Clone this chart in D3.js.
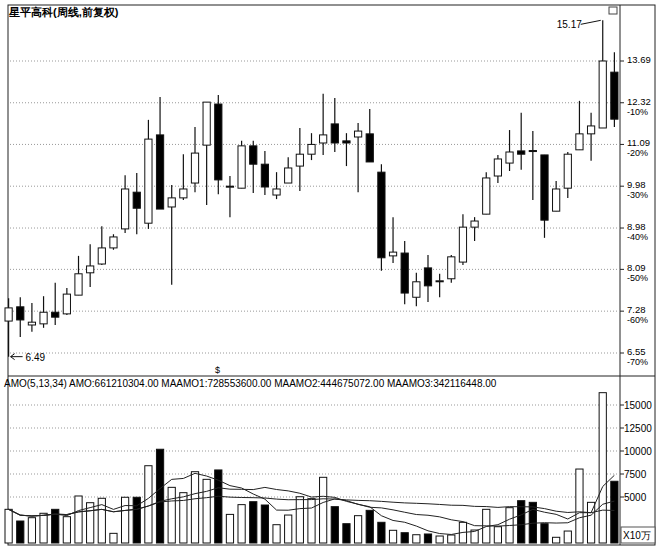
<!DOCTYPE html>
<html><head><meta charset="utf-8">
<script src="https://cdn.jsdelivr.net/npm/d3@7"></script>
<style>body{margin:0;background:#fff}text{font-family:"Liberation Sans",Arial,sans-serif}</style>
</head><body><div id="chart"></div>
<script>
var opens  = [7.10,7.36,7.03,7.05,7.26,7.23,7.58,8.02,8.20,8.54,8.96,9.83,9.09,11.36,9.47,9.69,10.06,11.07,12.28,9.97,9.93,11.05,10.55,9.76,10.06,10.50,10.82,11.13,11.68,11.19,11.30,11.39,10.34,8.37,8.43,7.54,8.12,7.85,7.90,8.24,9.00,9.30,10.24,10.58,10.91,10.92,10.80,9.37,9.93,10.94,11.39,11.56,13.31];
var highs  = [7.52,7.54,7.43,7.56,7.82,7.72,8.37,8.62,9.02,8.84,10.26,10.32,11.80,12.50,10.01,10.82,11.59,12.34,12.56,10.24,11.19,11.19,10.91,10.34,10.74,11.56,11.41,12.60,12.47,11.41,11.71,12.13,10.55,9.23,8.69,8.02,8.39,8.00,8.39,9.30,9.23,10.34,10.80,11.50,12.01,11.47,10.80,10.11,10.88,12.38,12.01,15.17,14.00];
var lows   = [6.49,6.82,6.91,6.98,7.03,7.21,7.58,7.74,8.18,8.50,8.87,8.84,8.96,9.42,7.78,9.64,9.83,9.52,9.78,9.23,9.93,9.81,9.76,9.66,10.06,9.86,10.66,10.80,10.88,10.50,9.83,10.61,8.06,8.22,7.41,7.37,7.45,7.54,7.82,8.18,8.69,9.30,10.06,10.37,10.40,9.64,8.76,9.37,9.69,10.94,10.64,11.56,11.59];
var closes = [7.34,7.12,7.08,7.26,7.17,7.60,8.00,8.16,8.54,8.78,9.91,9.44,11.24,9.42,9.69,9.91,10.85,12.34,10.14,9.98,11.05,10.55,9.96,9.91,10.45,10.82,11.09,11.36,11.13,11.13,11.47,10.61,8.33,8.45,7.62,7.84,7.76,7.86,8.35,9.00,9.14,10.19,10.69,10.88,10.82,10.91,9.16,9.91,10.82,11.39,11.62,13.69,11.82];
var amounts = [3660,2390,2750,3230,3660,2860,5110,4380,4860,1050,4970,4970,8400,10190,6050,5470,7750,6920,7940,3110,4170,4490,4130,1990,3040,5030,4820,7140,3950,2100,2970,3550,2250,1380,1120,900,980,760,870,2250,1410,3660,1770,3840,4600,4420,2100,620,1300,8040,4420,16340,6710];
var priceTicks = [13.69,12.32,11.09,9.98,8.98,8.09,7.28,6.55];
var pctTicks = ["","-10%","-20%","-30%","-40%","-50%","-60%","-70%"];
var volTicks = [5000,7500,10000,12500,15000];
var maPeriods = [5,13,34];

var W = 660, H = 548;
var svg = d3.select("#chart").append("svg").attr("width", W).attr("height", H);
var left = 8, right = 620, pTop = 5, pBot = 376, vTop = 376, vBot = 545;

var idx = d3.range(closes.length);
var x = d3.scaleBand().domain(idx).range([5, 618]).paddingInner(0.38);
var y = d3.scaleLog().domain([6.55, 13.69]).range([353, 61]);
var yv = d3.scaleLinear().domain([0, 15000]).range([543, 405]);

// frames
svg.append("rect").attr("x", left).attr("y", pTop).attr("width", 647).attr("height", vBot - pTop)
   .attr("fill", "none").attr("stroke", "#222");
svg.append("line").attr("x1", right).attr("x2", right).attr("y1", pTop).attr("y2", vBot).attr("stroke", "#222");
svg.append("line").attr("x1", left).attr("x2", 655).attr("y1", pBot).attr("y2", pBot).attr("stroke", "#222");

// price grid + labels
priceTicks.forEach(function (t, i) {
  svg.append("line").attr("x1", left + 2).attr("x2", right).attr("y1", y(t)).attr("y2", y(t))
     .attr("stroke", "#999").attr("stroke-dasharray", "1,2");
  svg.append("line").attr("x1", right).attr("x2", right + 4).attr("y1", y(t)).attr("y2", y(t)).attr("stroke", "#222");
  svg.append("text").attr("x", 627).attr("y", y(t) + 2).attr("font-size", 9.5).text(t.toFixed(2));
  if (pctTicks[i]) svg.append("text").attr("x", 627).attr("y", y(t) + 12).attr("font-size", 9).text(pctTicks[i]);
});

svg.append("text").attr("x", 9).attr("y", 16).attr("font-size", 11).attr("font-weight", "bold")
   .text("星平高科(周线,前复权)");

// candles
var c = svg.append("g");
idx.forEach(function (i) {
  var cx = x(i) + x.bandwidth() / 2, up = closes[i] >= opens[i];
  c.append("line").attr("x1", cx).attr("x2", cx).attr("y1", y(highs[i])).attr("y2", y(lows[i]))
   .attr("stroke", "#111").attr("stroke-width", 1.2);
  var top = y(Math.max(opens[i], closes[i])), bot = y(Math.min(opens[i], closes[i]));
  c.append("rect").attr("x", x(i)).attr("y", top).attr("width", x.bandwidth()).attr("height", Math.max(1, bot - top))
   .attr("fill", up ? "#fff" : "#000").attr("stroke", "#111").attr("stroke-width", 1);
});

// high / low marks
var hi = d3.maxIndex(highs), lo = d3.minIndex(lows);
var hx = x(hi) + x.bandwidth() / 2;
svg.append("path").attr("d", "M" + (hx - 22) + "," + (y(highs[hi]) + 4) + " L" + (hx - 2) + "," + y(highs[hi]))
   .attr("stroke", "#111").attr("fill", "none");
svg.append("text").attr("x", hx - 46).attr("y", y(highs[hi]) + 8).attr("font-size", 10).text(highs[hi].toFixed(2));
var lx = x(lo) + x.bandwidth() / 2;
svg.append("path").attr("d", "M" + (lx + 14) + "," + y(lows[lo]) + " L" + (lx + 2) + "," + y(lows[lo]) +
   " M" + (lx + 6) + "," + (y(lows[lo]) - 3) + " L" + (lx + 2) + "," + y(lows[lo]) + " L" + (lx + 6) + "," + (y(lows[lo]) + 3))
   .attr("stroke", "#111").attr("fill", "none");
svg.append("text").attr("x", lx + 17).attr("y", y(lows[lo]) + 4).attr("font-size", 10).text(lows[lo].toFixed(2));
svg.append("rect").attr("x", 609).attr("y", 7).attr("width", 8).attr("height", 7).attr("fill", "#fff").attr("stroke", "#444");
svg.append("text").attr("x", 215).attr("y", 373).attr("font-size", 9).text("$");

// volume grid
volTicks.forEach(function (t) {
  svg.append("line").attr("x1", left + 2).attr("x2", right).attr("y1", yv(t)).attr("y2", yv(t))
     .attr("stroke", "#999").attr("stroke-dasharray", "1,2");
  svg.append("line").attr("x1", right).attr("x2", right + 4).attr("y1", yv(t)).attr("y2", yv(t)).attr("stroke", "#222");
  svg.append("text").attr("x", 624).attr("y", yv(t) + 4).attr("font-size", 10).text(t);
});
svg.append("rect").attr("x", 621).attr("y", 527).attr("width", 34).attr("height", 16).attr("fill", "#fff").attr("stroke", "#555");
svg.append("text").attr("x", 623).attr("y", 539).attr("font-size", 10).text("X10万");
svg.append("text").attr("x", 4).attr("y", 387).attr("font-size", 10)
   .text("AMO(5,13,34) AMO:661210304.00  MAAMO1:728553600.00  MAAMO2:444675072.00  MAAMO3:342116448.00");

// volume bars
idx.forEach(function (i) {
  var up = closes[i] >= opens[i];
  svg.append("rect").attr("x", x(i)).attr("y", yv(amounts[i])).attr("width", x.bandwidth())
     .attr("height", yv(0) - yv(amounts[i])).attr("fill", up ? "#fff" : "#000").attr("stroke", "#111");
});

// moving averages of amount
maPeriods.forEach(function (p) {
  var ma = idx.map(function (i) { return d3.mean(amounts.slice(Math.max(0, i - p + 1), i + 1)); });
  svg.append("path").datum(ma)
     .attr("d", d3.line().x(function (d, i) { return x(i) + x.bandwidth() / 2; }).y(function (d) { return yv(d); }))
     .attr("fill", "none").attr("stroke", "#222").attr("stroke-width", 1);
});
</script></body></html>
